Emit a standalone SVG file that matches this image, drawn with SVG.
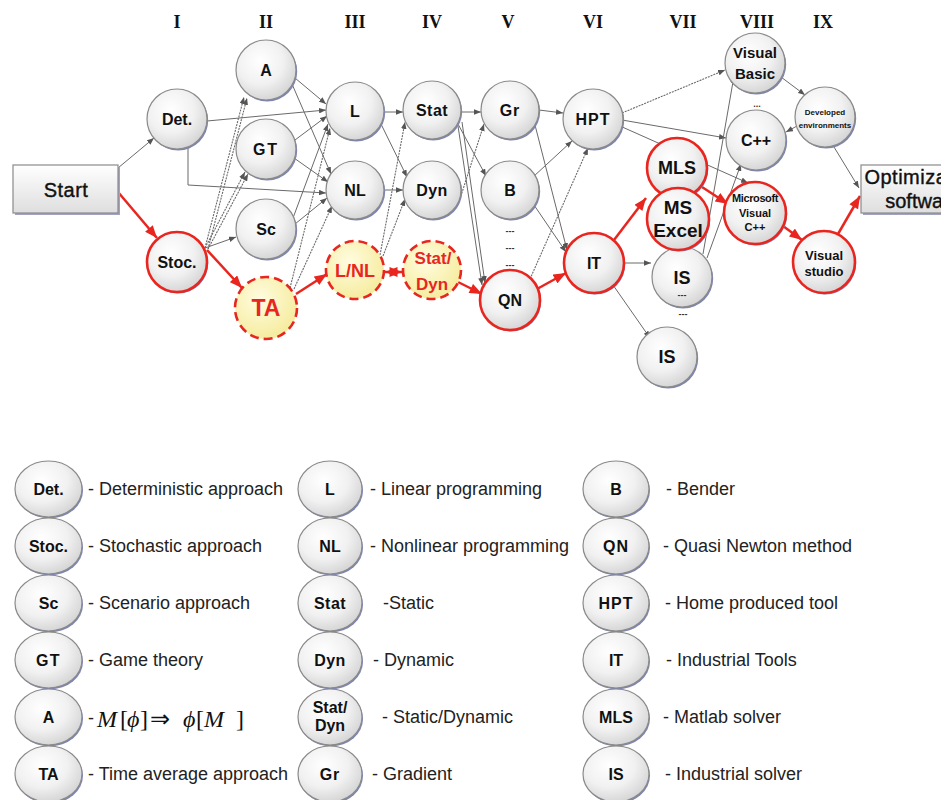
<svg xmlns="http://www.w3.org/2000/svg" width="941" height="800" viewBox="0 0 941 800">
<defs>
<radialGradient id="gg" cx="0.4" cy="0.35" r="0.7"><stop offset="0" stop-color="#ffffff"/><stop offset="0.55" stop-color="#f1f1f1"/><stop offset="1" stop-color="#d2d2d2"/></radialGradient>
<radialGradient id="gy" cx="0.4" cy="0.35" r="0.7"><stop offset="0" stop-color="#fffce0"/><stop offset="1" stop-color="#f5eb9a"/></radialGradient>
<linearGradient id="gb" x1="0" y1="0" x2="0" y2="1"><stop offset="0" stop-color="#ffffff"/><stop offset="1" stop-color="#dedede"/></linearGradient>
<marker id="ag" viewBox="0 0 10 8" refX="10" refY="4" markerWidth="7" markerHeight="5.6" markerUnits="userSpaceOnUse" orient="auto"><path d="M0,0 L10,4 L0,8 z" fill="#555"/></marker>
<marker id="ar" viewBox="0 0 10 8" refX="10" refY="4" markerWidth="13" markerHeight="10" markerUnits="userSpaceOnUse" orient="auto-start-reverse"><path d="M0,0 L10,4 L0,8 z" fill="#e8261f"/></marker>
</defs>
<style>
.e{stroke:#6a6a6a;stroke-width:1;fill:none;marker-end:url(#ag)}
.d{stroke:#6a6a6a;stroke-width:1.1;stroke-dasharray:2 1;fill:none;marker-end:url(#ag)}
.r{stroke:#e8261f;stroke-width:2.5;fill:none;marker-end:url(#ar)}
.sh{fill:#7c84b8}
.n{fill:url(#gg);stroke:#8a8a8a;stroke-width:1.2}
.nr{fill:url(#gg);stroke:#e8261f;stroke-width:2.6}
.ny{fill:url(#gy);stroke:#e8261f;stroke-width:2.6;stroke-dasharray:9 5}
.bx{fill:url(#gb);stroke:#8a8a8a;stroke-width:1.2}
.t{font-family:"Liberation Sans",Arial,sans-serif;font-weight:bold;text-anchor:middle;fill:#111}
.tn{font-family:"Liberation Sans",Arial,sans-serif;font-weight:normal;text-anchor:middle;fill:#111;stroke:#111;stroke-width:0.4}
.tr{font-family:"Liberation Sans",Arial,sans-serif;font-weight:bold;text-anchor:middle;fill:#e8261f}
.rn{font-family:"Liberation Serif","Times New Roman",serif;font-weight:bold;font-size:18px;text-anchor:middle;fill:#111}
.lg{font-family:"Liberation Sans",Arial,sans-serif;font-size:18px;fill:#222}
.lt{font-family:"Liberation Sans",Arial,sans-serif;font-weight:bold;font-size:16px;text-anchor:middle;fill:#111}
.dots{font-family:"Liberation Sans",Arial,sans-serif;font-size:9px;font-weight:bold;text-anchor:middle;fill:#333}
</style>
<rect width="941" height="800" fill="#ffffff"/>

<g id="headers">
<text class="rn" x="177" y="28">I</text>
<text class="rn" x="266" y="28">II</text>
<text class="rn" x="355" y="28">III</text>
<text class="rn" x="432" y="28">IV</text>
<text class="rn" x="508" y="28">V</text>
<text class="rn" x="593" y="28">VI</text>
<text class="rn" x="683" y="28">VII</text>
<text class="rn" x="757" y="28">VIII</text>
<text class="rn" x="823" y="28">IX</text>
</g>

<g id="connectors">
<line class="e" x1="118" y1="168" x2="154" y2="138"/>
<line class="e" x1="207" y1="121" x2="326" y2="110"/>
<polyline class="e" points="188,147 188,185 326,193"/>
<line class="d" x1="205" y1="248" x2="244" y2="97"/>
<line class="d" x1="208" y1="249" x2="247" y2="98"/>
<line class="d" x1="205" y1="248" x2="245" y2="172"/>
<line class="d" x1="208" y1="249" x2="248" y2="174"/>
<line class="e" x1="205" y1="248" x2="236" y2="237"/>
<line class="e" x1="295" y1="78" x2="326" y2="104"/>
<line class="e" x1="292" y1="84" x2="331" y2="174"/>
<line class="e" x1="295" y1="140" x2="327" y2="116"/>
<line class="e" x1="294" y1="158" x2="328" y2="182"/>
<line class="e" x1="293" y1="218" x2="328" y2="124"/>
<line class="e" x1="295" y1="224" x2="327" y2="198"/>
<line class="d" x1="290" y1="288" x2="330" y2="128"/>
<line class="d" x1="294" y1="289" x2="332" y2="206"/>
<line class="e" x1="384" y1="112" x2="403" y2="112"/>
<line class="e" x1="381" y1="124" x2="407" y2="177"/>
<line class="e" x1="384" y1="190" x2="403" y2="190"/>
<line class="d" x1="380" y1="255" x2="405" y2="122"/>
<line class="d" x1="383" y1="256" x2="405" y2="199"/>
<line class="e" x1="461" y1="112" x2="481" y2="112"/>
<line class="e" x1="458" y1="124" x2="486" y2="176"/>
<line class="e" x1="462" y1="122" x2="485" y2="283"/>
<line class="e" x1="458" y1="126" x2="482" y2="285"/>
<line class="d" x1="458" y1="205" x2="484" y2="124"/>
<line class="e" x1="539" y1="110" x2="563" y2="113"/>
<line class="e" x1="535" y1="125" x2="567" y2="250"/>
<line class="e" x1="533" y1="177" x2="572" y2="141"/>
<line class="e" x1="534" y1="205" x2="566" y2="252"/>
<line class="d" x1="530" y1="279" x2="588" y2="148"/>
<line class="d" x1="622" y1="113" x2="725" y2="70"/>
<line class="e" x1="622" y1="120" x2="726" y2="138"/>
<line class="e" x1="620" y1="126" x2="748" y2="183"/>
<line class="e" x1="624" y1="263" x2="651" y2="263"/>
<line class="e" x1="613" y1="285" x2="650" y2="338"/>
<line class="e" x1="703" y1="254" x2="734" y2="76"/>
<line class="e" x1="707" y1="258" x2="741" y2="164"/>
<line class="e" x1="781" y1="77" x2="805" y2="95"/>
<line class="e" x1="797" y1="126" x2="786" y2="132"/>
<line class="e" x1="834" y1="147" x2="859" y2="188"/>
<line class="r" x1="118" y1="192" x2="157" y2="238"/>
<line class="r" x1="207" y1="250" x2="242" y2="288"/>
<line class="r" x1="296" y1="294" x2="327" y2="274"/>
<line class="r" x1="385" y1="272" x2="402" y2="272" marker-start="url(#ar)"/>
<line class="r" x1="458" y1="282" x2="482" y2="294"/>
<line class="r" x1="537" y1="289" x2="566" y2="273"/>
<line class="r" x1="614" y1="240" x2="646" y2="198"/>
<line class="r" x1="702" y1="187" x2="728" y2="204"/>
<line class="r" x1="783" y1="226" x2="802" y2="240"/>
<line class="r" x1="838" y1="234" x2="860" y2="196"/>
</g>

<g id="n-start"><rect x="15" y="167" width="105" height="48" fill="#a0a4c0"/><rect class="bx" x="13" y="165" width="105" height="48"/><text class="tn" x="66" y="197" font-size="20" letter-spacing="0.5">Start</text></g>
<g id="n-det"><circle class="sh" cx="178.2" cy="120.5" r="30"/><circle class="n" cx="177" cy="119" r="30"/><text class="t" x="177" y="125" font-size="16">Det.</text></g>
<g id="n-stoc"><circle class="sh" cx="178.2" cy="263.5" r="30"/><circle class="nr" cx="177" cy="262" r="30"/><text class="t" x="177" y="268" font-size="16">Stoc.</text></g>
<g id="n-a"><circle class="sh" cx="267.2" cy="71.5" r="30"/><circle class="n" cx="266" cy="70" r="30"/><text class="t" x="266" y="76" font-size="16">A</text></g>
<g id="n-gt"><circle class="sh" cx="267.2" cy="150.5" r="30"/><circle class="n" cx="266" cy="149" r="30"/><text class="t" x="266" y="155" font-size="16" letter-spacing="2">GT</text></g>
<g id="n-sc"><circle class="sh" cx="267.2" cy="230.5" r="30"/><circle class="n" cx="266" cy="229" r="30"/><text class="t" x="266" y="235" font-size="16">Sc</text></g>
<g id="n-ta"><circle class="ny" cx="266" cy="308" r="31"/><text class="tr" x="266" y="316" font-size="23">TA</text></g>
<g id="n-l"><circle class="sh" cx="356.2" cy="112.5" r="29"/><circle class="n" cx="355" cy="111" r="29"/><text class="t" x="355" y="117" font-size="16">L</text></g>
<g id="n-nl"><circle class="sh" cx="356.2" cy="191.5" r="29"/><circle class="n" cx="355" cy="190" r="29"/><text class="t" x="355" y="196" font-size="16">NL</text></g>
<g id="n-lnl"><circle class="ny" cx="355" cy="270" r="29"/><text class="tr" x="355" y="277" font-size="18">L/NL</text></g>
<g id="n-stat"><circle class="sh" cx="433.2" cy="111.5" r="29"/><circle class="n" cx="432" cy="110" r="29"/><text class="t" x="432" y="116" font-size="16" letter-spacing="0.5">Stat</text></g>
<g id="n-dyn"><circle class="sh" cx="433.2" cy="191.5" r="29"/><circle class="n" cx="432" cy="190" r="29"/><text class="t" x="432" y="196" font-size="16" letter-spacing="0.5">Dyn</text></g>
<g id="n-statdyn"><circle class="ny" cx="432" cy="270" r="29"/><text class="tr" x="433" y="264" font-size="17">Stat/</text><text class="tr" x="432" y="290" font-size="17">Dyn</text></g>
<g id="n-gr"><circle class="sh" cx="511.2" cy="111.5" r="29"/><circle class="n" cx="510" cy="110" r="29"/><text class="t" x="510" y="116" font-size="16" letter-spacing="1">Gr</text></g>
<g id="n-b"><circle class="sh" cx="511.2" cy="191.5" r="29"/><circle class="n" cx="510" cy="190" r="29"/><text class="t" x="510" y="196" font-size="16">B</text></g>
<g id="n-dots-v"><text class="dots" x="510" y="234">---</text><text class="dots" x="510" y="251">---</text><text class="dots" x="510" y="268">---</text></g>
<g id="n-qn"><circle class="sh" cx="511.2" cy="301.5" r="30"/><circle class="nr" cx="510" cy="300" r="30"/><text class="t" x="510" y="306" font-size="16">QN</text></g>
<g id="n-hpt"><circle class="sh" cx="594.2" cy="120.5" r="30"/><circle class="n" cx="593" cy="119" r="30"/><text class="t" x="593" y="125" font-size="16" letter-spacing="1">HPT</text></g>
<g id="n-it"><circle class="sh" cx="595.2" cy="264.5" r="30"/><circle class="nr" cx="594" cy="263" r="30"/><text class="t" x="594" y="269" font-size="16">IT</text></g>
<g id="n-is1"><circle class="sh" cx="683.2" cy="278.5" r="30"/><circle class="n" cx="682" cy="277" r="30"/><text class="t" x="682" y="284" font-size="18">IS</text><text class="dots" x="682" y="298">---</text></g>
<g id="n-mls"><circle class="sh" cx="678.2" cy="169.5" r="30"/><circle class="nr" cx="677" cy="168" r="30"/><text class="t" x="677" y="174" font-size="18">MLS</text></g>
<g id="n-msexcel"><circle class="sh" cx="679.2" cy="220.5" r="31"/><circle class="nr" cx="678" cy="219" r="31"/><text class="t" x="678" y="214" font-size="19">MS</text><text class="t" x="678" y="237" font-size="19">Excel</text></g>
<g id="n-dots-vii"><text class="dots" x="683" y="317">---</text><text class="dots" x="678" y="335">---</text></g>
<g id="n-is2"><circle class="sh" cx="668.2" cy="358.5" r="30"/><circle class="n" cx="667" cy="357" r="30"/><text class="t" x="667" y="363" font-size="18">IS</text></g>
<g id="n-vb"><circle class="sh" cx="756.2" cy="64.5" r="30"/><circle class="n" cx="755" cy="63" r="30"/><text class="t" x="755" y="58" font-size="15">Visual</text><text class="t" x="755" y="79" font-size="15">Basic</text></g>
<g id="n-dots-viii"><text class="dots" x="757" y="107">...</text></g>
<g id="n-cpp"><circle class="sh" cx="757.2" cy="141.5" r="30"/><circle class="n" cx="756" cy="140" r="30"/><text class="t" x="756" y="146" font-size="16">C++</text></g>
<g id="n-mvc"><circle class="sh" cx="756.2" cy="214.5" r="31"/><circle class="nr" cx="755" cy="213" r="31"/><text class="t" x="755" y="202" font-size="11" letter-spacing="-0.4">Microsoft</text><text class="t" x="755" y="217" font-size="11">Visual</text><text class="t" x="755" y="231" font-size="11">C++</text></g>
<g id="n-de"><circle class="sh" cx="826.2" cy="118.5" r="30"/><circle class="n" cx="825" cy="117" r="30"/><text class="t" x="825" y="115" font-size="8">Developed</text><text class="t" x="825" y="128" font-size="8">environments</text></g>
<g id="n-vs"><circle class="sh" cx="825.2" cy="263.5" r="31"/><circle class="nr" cx="824" cy="262" r="31"/><text class="t" x="824" y="260" font-size="13">Visual</text><text class="t" x="824" y="276" font-size="13">studio</text></g>
<g id="n-opt"><rect x="863" y="167" width="124" height="48" fill="#a0a4c0"/><rect class="bx" x="861" y="165" width="124" height="48"/><text class="tn" x="923" y="184" font-size="20" letter-spacing="0.5">Optimization</text><text class="tn" x="923" y="208" font-size="20">software</text></g>

<g id="legend">
<g id="lg-det"><ellipse class="sh" cx="49.5" cy="490.5" rx="33.5" ry="28"/><ellipse class="n" cx="48.5" cy="489" rx="33.5" ry="28"/><text class="lt" x="48.5" y="495">Det.</text><text class="lg" x="88" y="495">- Deterministic approach</text></g>
<g id="lg-stoc"><ellipse class="sh" cx="49.5" cy="547.5" rx="33.5" ry="28"/><ellipse class="n" cx="48.5" cy="546" rx="33.5" ry="28"/><text class="lt" x="48.5" y="552">Stoc.</text><text class="lg" x="88" y="552">- Stochastic approach</text></g>
<g id="lg-sc"><ellipse class="sh" cx="49.5" cy="604.5" rx="33.5" ry="28"/><ellipse class="n" cx="48.5" cy="603" rx="33.5" ry="28"/><text class="lt" x="48.5" y="609">Sc</text><text class="lg" x="88" y="609">- Scenario approach</text></g>
<g id="lg-gt"><ellipse class="sh" cx="49.5" cy="661.5" rx="33.5" ry="28"/><ellipse class="n" cx="48.5" cy="660" rx="33.5" ry="28"/><text class="lt" x="48.5" y="666" letter-spacing="1.5">GT</text><text class="lg" x="88" y="666">- Game theory</text></g>
<g id="lg-a"><ellipse class="sh" cx="49.5" cy="718.5" rx="33.5" ry="28"/><ellipse class="n" cx="48.5" cy="717" rx="33.5" ry="28"/><text class="lt" x="48.5" y="723">A</text><text class="lg" x="88" y="724">-</text><text x="97 120 127 140 150 183 196 204 236" y="727" font-family="Liberation Serif,Times New Roman,serif" font-size="24" fill="#111"><tspan font-style="italic">M</tspan>[<tspan font-style="italic">ϕ</tspan>]⇒<tspan font-style="italic">ϕ</tspan>[<tspan font-style="italic">M</tspan>]</text></g>
<g id="lg-ta"><ellipse class="sh" cx="49.5" cy="775.5" rx="33.5" ry="28"/><ellipse class="n" cx="48.5" cy="774" rx="33.5" ry="28"/><text class="lt" x="48.5" y="780">TA</text><text class="lg" x="88" y="780">- Time average approach</text></g>

<g id="lg-l"><ellipse class="sh" cx="331" cy="490.5" rx="32" ry="28"/><ellipse class="n" cx="330" cy="489" rx="32" ry="28"/><text class="lt" x="330" y="495">L</text><text class="lg" x="370" y="495">- Linear programming</text></g>
<g id="lg-nl"><ellipse class="sh" cx="331" cy="547.5" rx="32" ry="28"/><ellipse class="n" cx="330" cy="546" rx="32" ry="28"/><text class="lt" x="330" y="552">NL</text><text class="lg" x="370" y="552">- Nonlinear programming</text></g>
<g id="lg-stat"><ellipse class="sh" cx="331" cy="604.5" rx="32" ry="28"/><ellipse class="n" cx="330" cy="603" rx="32" ry="28"/><text class="lt" x="330" y="609" letter-spacing="0.5">Stat</text><text class="lg" x="383" y="609">-Static</text></g>
<g id="lg-dyn"><ellipse class="sh" cx="331" cy="661.5" rx="32" ry="28"/><ellipse class="n" cx="330" cy="660" rx="32" ry="28"/><text class="lt" x="330" y="666" letter-spacing="0.5">Dyn</text><text class="lg" x="373" y="666">- Dynamic</text></g>
<g id="lg-statdyn"><ellipse class="sh" cx="331" cy="718.5" rx="32" ry="28"/><ellipse class="n" cx="330" cy="717" rx="32" ry="28"/><text class="lt" x="330" y="713" font-size="14">Stat/</text><text class="lt" x="330" y="731" font-size="14">Dyn</text><text class="lg" x="382" y="723">- Static/Dynamic</text></g>
<g id="lg-gr"><ellipse class="sh" cx="331" cy="775.5" rx="32" ry="28"/><ellipse class="n" cx="330" cy="774" rx="32" ry="28"/><text class="lt" x="330" y="780" letter-spacing="1">Gr</text><text class="lg" x="372" y="780">- Gradient</text></g>

<g id="lg-b"><ellipse class="sh" cx="617" cy="490.5" rx="33" ry="28"/><ellipse class="n" cx="616" cy="489" rx="33" ry="28"/><text class="lt" x="616" y="495">B</text><text class="lg" x="666" y="495">- Bender</text></g>
<g id="lg-qn"><ellipse class="sh" cx="617" cy="547.5" rx="33" ry="28"/><ellipse class="n" cx="616" cy="546" rx="33" ry="28"/><text class="lt" x="616" y="552" letter-spacing="1">QN</text><text class="lg" x="663" y="552">- Quasi Newton method</text></g>
<g id="lg-hpt"><ellipse class="sh" cx="617" cy="604.5" rx="33" ry="28"/><ellipse class="n" cx="616" cy="603" rx="33" ry="28"/><text class="lt" x="616" y="609" letter-spacing="1">HPT</text><text class="lg" x="665" y="609">- Home produced tool</text></g>
<g id="lg-it"><ellipse class="sh" cx="617" cy="661.5" rx="33" ry="28"/><ellipse class="n" cx="616" cy="660" rx="33" ry="28"/><text class="lt" x="616" y="666">IT</text><text class="lg" x="666" y="666">- Industrial Tools</text></g>
<g id="lg-mls"><ellipse class="sh" cx="617" cy="718.5" rx="33" ry="28"/><ellipse class="n" cx="616" cy="717" rx="33" ry="28"/><text class="lt" x="616" y="723">MLS</text><text class="lg" x="663" y="723">- Matlab solver</text></g>
<g id="lg-is"><ellipse class="sh" cx="617" cy="775.5" rx="33" ry="28"/><ellipse class="n" cx="616" cy="774" rx="33" ry="28"/><text class="lt" x="616" y="780">IS</text><text class="lg" x="665" y="780">- Industrial solver</text></g>
</g>
</svg>
